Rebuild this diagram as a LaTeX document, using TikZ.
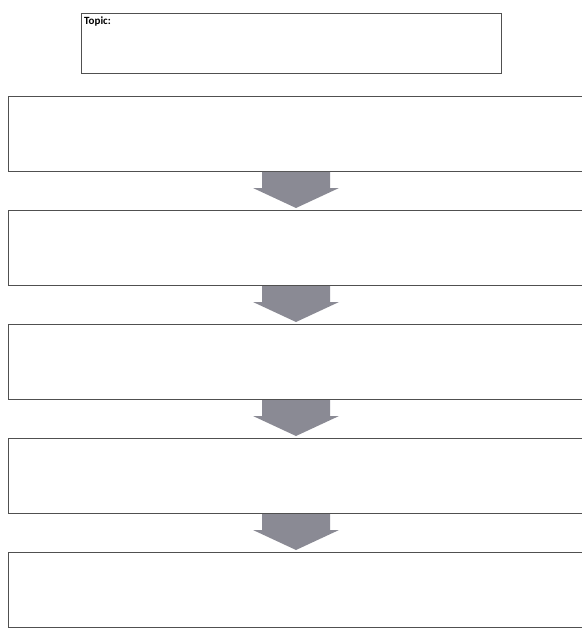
\documentclass[tikz,border=0pt]{standalone}
\usepackage{fontspec}
\setmainfont{Carlito}
\usepackage{tikz}
\usetikzlibrary{
  positioning,%
  calc
}
\definecolor{boxline}{RGB}{80,80,80}
\definecolor{arrowgray}{RGB}{138,138,148}
\tikzset{>=latex}
\tikzset{flowbox/.style={draw=boxline, line width=1.3pt, fill=white,
    minimum width=588.7pt, minimum height=74.7pt, inner sep=0pt}}
\tikzset{topicbox/.style={draw=boxline, line width=1.3pt, fill=white,
    minimum width=419.7pt, minimum height=59.7pt, inner sep=0pt}}
% block arrow between two boxes
\tikzset{flowarrow/.style={fill=arrowgray, draw=none,
    to path={let \p1=(\tikztostart), \p2=(\tikztotarget) in
      (\x1-34pt,\y1) -- (\x1+34pt,\y1) -- (\x1+34pt,\y1-16pt)
      -- (\x1+43pt,\y1-16pt) -- (\x1,\y2+2pt) -- (\x1-43pt,\y1-16pt)
      -- (\x1-34pt,\y1-16pt) -- cycle}}}

\begin{document}
\begin{tikzpicture}[x=1pt,y=-1pt, node distance=38pt]
  \useasboundingbox (0,0) rectangle (581,631);
  \node[topicbox] (topic) at (291.5,43.5) {};
  \node[anchor=north west, inner sep=0pt, font=\fontsize{11}{12}\selectfont\bfseries]
    (topiclabel) at ([xshift=3pt,yshift=-4pt]topic.north west) {Topic:};

  % boxes run past the right edge
  \node[flowbox] (s1) at (303,134) {};
  \node[flowbox, below=of s1] (s2) {};
  \node[flowbox, below=of s2] (s3) {};
  \node[flowbox, below=of s3] (s4) {};
  \node[flowbox, below=of s4] (s5) {};

  \foreach \a/\b in {s1/s2, s2/s3, s3/s4, s4/s5}
    \path[flowarrow] ([xshift=-7pt]\a.south) to ([xshift=-7pt]\b.north);
\end{tikzpicture}
\end{document}
